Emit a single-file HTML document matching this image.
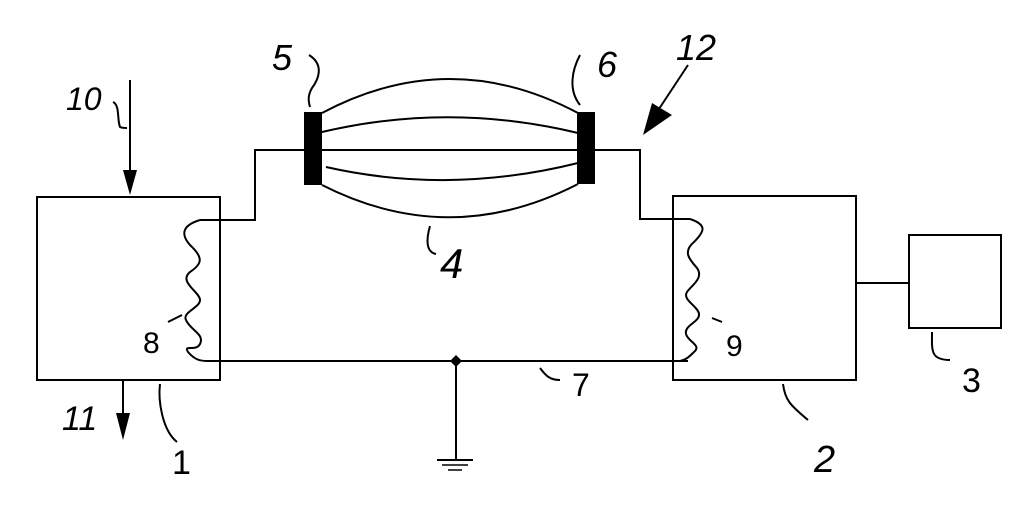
<!DOCTYPE html>
<html><head><style>html,body{margin:0;padding:0;background:#fff}</style></head>
<body>
<svg width="1025" height="500" viewBox="0 0 1025 500" xmlns="http://www.w3.org/2000/svg">
<g fill="none" stroke="#000" stroke-width="2">
<rect x="37" y="197" width="183" height="183"/>
<rect x="673" y="196" width="183" height="184"/>
<rect x="909" y="235" width="92" height="93"/>
<line x1="856" y1="283" x2="909" y2="283"/>
<polyline points="304,150 255,150 255,220 200,220"/>
<path d="M200,220 C180,226 182,236 190,245 C204,258 202,264 190,272 C178,282 200,292 200,300 C200,308 182,312 186,320 C190,330 205,334 200,344 C196,352 183,344 188,352 C195,360 200,361 208,361"/>
<line x1="208" y1="361" x2="688" y2="361"/>
<polyline points="595,150 640,150 640,219 690,219"/>
<path d="M690,219 C708,225 704,232 694,242 C682,252 690,260 697,268 C704,278 692,285 687,292 C682,300 698,306 699,314 C700,322 684,325 686,334 C688,342 702,345 694,352 C688,358 685,360 680,361"/>
<line x1="456" y1="361" x2="456" y2="460"/>
<line x1="437" y1="460" x2="473" y2="460"/>
<line x1="442" y1="465" x2="468" y2="465" stroke-width="1.5"/>
<line x1="448" y1="470" x2="462" y2="470" stroke-width="1.5"/>
<path d="M322,113 Q450,45 578,113"/>
<path d="M322,132 Q450,102 578,133"/>
<line x1="322" y1="150" x2="578" y2="150"/>
<path d="M326,167 Q450,195 578,163"/>
<path d="M322,185 Q450,250 578,184"/>
<line x1="130" y1="80" x2="130" y2="175"/>
<line x1="123" y1="380" x2="123" y2="420"/>
<line x1="688" y1="65" x2="655" y2="115"/>
<path d="M309,55 C325,65 318,80 312,88 C308,95 308,100 310,107"/>
<path d="M580,55 C572,70 568,90 580,105"/>
<path d="M113,102 C120,105 117,120 120,127 C122,128 125,128 127,128"/>
<path d="M160,384 C158,400 162,430 177,442"/>
<path d="M168,322 L182,315"/>
<path d="M712,318 L722,322"/>
<path d="M430,226 C426,240 426,252 436,254"/>
<path d="M540,368 C546,376 550,380 560,380"/>
<path d="M783,384 C785,400 790,405 808,420"/>
<path d="M932,332 C932,350 930,360 950,360"/>
</g>
<g fill="#000">
<rect x="304" y="112" width="18" height="73"/>
<rect x="577" y="112" width="18" height="72"/>
<polygon points="123,170 137,170 130,195"/>
<polygon points="116,413 130,413 123,440"/>
<polygon points="643,135 652,103 672,115"/>
<polygon points="456,355 462,361 456,367 450,361"/>
</g>
<g font-family="Liberation Sans, sans-serif" font-size="36" fill="#000" font-style="italic">
<text x="272" y="70">5</text>
<text x="597" y="77">6</text>
<text x="676" y="60">12</text>
<text x="66" y="110" font-size="32">10</text>
<text x="143" y="353" font-style="normal" font-size="30">8</text>
<text x="440" y="278" font-size="42">4</text>
<text x="726" y="356" font-style="normal" font-size="30">9</text>
<text x="572" y="396" font-style="normal" font-size="32">7</text>
<text x="62" y="430" font-size="34">11</text>
<text x="172" y="474" font-style="normal" font-size="34">1</text>
<text x="814" y="472" font-size="38">2</text>
<text x="962" y="392" font-style="normal" font-size="34">3</text>
</g>
</svg>
</body></html>
